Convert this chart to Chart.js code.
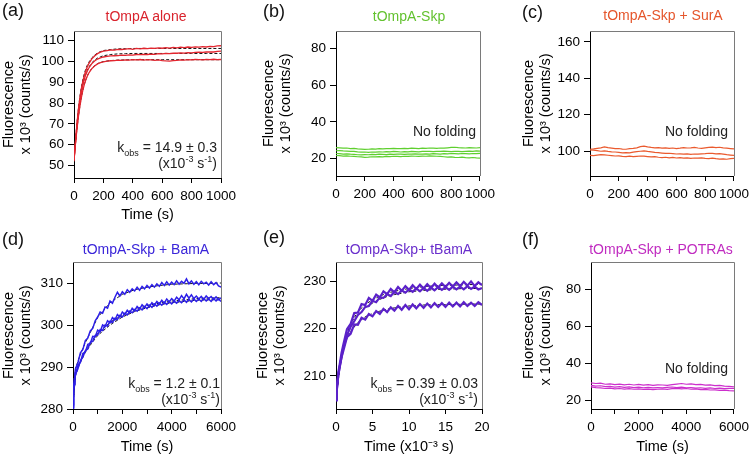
<!DOCTYPE html>
<html>
<head>
<meta charset="utf-8">
<script src="https://cdn.jsdelivr.net/npm/chart.js@4.4.0/dist/chart.umd.min.js"></script>
<style>
  body { margin: 0; background: #fff; font-family: "Liberation Sans", Arial, sans-serif; }
  #fig { position: relative; width: 754px; height: 456px; overflow: hidden; background: #fff; }
  canvas { position: absolute; }
  .txt { position: absolute; white-space: nowrap; font-size: 14px; line-height: 16px; color: #222; }
  .letter { font-size: 18px; line-height: 18px; color: #111; }
  .title { transform: translateX(-50%); }
  .note { text-align: right; }
  sub, sup { font-size: 9px; line-height: 0; }
</style>
</head>
<body>
<div id="fig">
  <canvas id="cA" width="250" height="225" style="left:0;top:0"></canvas>
  <canvas id="cB" width="250" height="225" style="left:250px;top:0"></canvas>
  <canvas id="cC" width="254" height="225" style="left:500px;top:0"></canvas>
  <canvas id="cD" width="250" height="231" style="left:0;top:225px"></canvas>
  <canvas id="cE" width="250" height="231" style="left:250px;top:225px"></canvas>
  <canvas id="cF" width="254" height="231" style="left:500px;top:225px"></canvas>

  <div class="txt letter" style="left:2px;top:1px">(a)</div>
  <div class="txt letter" style="left:263px;top:2px">(b)</div>
  <div class="txt letter" style="left:522px;top:3px">(c)</div>
  <div class="txt letter" style="left:2px;top:230px">(d)</div>
  <div class="txt letter" style="left:263px;top:228px">(e)</div>
  <div class="txt letter" style="left:522px;top:230px">(f)</div>

  <div class="txt title" style="left:146px;top:8px;color:#d9232d">tOmpA alone</div>
  <div class="txt title" style="left:409px;top:8px;color:#63c22f">tOmpA-Skp</div>
  <div class="txt title" style="left:663px;top:7px;color:#e5552b">tOmpA-Skp + SurA</div>
  <div class="txt title" style="left:146px;top:241px;color:#3a25d9">tOmpA-Skp + BamA</div>
  <div class="txt title" style="left:409px;top:241px;color:#6a2fcc">tOmpA-Skp+ tBamA</div>
  <div class="txt title" style="left:661px;top:241px;color:#c02cc0">tOmpA-Skp + POTRAs</div>

  <div class="txt note" style="right:537px;top:139px">k<sub>obs</sub> = 14.9 ± 0.3<br>(x10<sup>-3</sup> s<sup>-1</sup>)</div>
  <div class="txt note" style="right:534px;top:375px">k<sub>obs</sub> = 1.2 ± 0.1<br>(x10<sup>-3</sup> s<sup>-1</sup>)</div>
  <div class="txt note" style="right:276px;top:375px">k<sub>obs</sub> = 0.39 ± 0.03<br>(x10<sup>-3</sup> s<sup>-1</sup>)</div>
  <div class="txt note" style="right:278px;top:123px">No folding</div>
  <div class="txt note" style="right:26px;top:123px">No folding</div>
  <div class="txt note" style="right:26px;top:360px">No folding</div>
</div>

<script>
// ---- data ----

// (a) tOmpA alone: three traces + dashed fits
const tA = [0,10,20,30,40,50,60,70,80,90,100,120,140,160,180,200,
  225,250,275,300,325,350,375,400,425,450,475,500,525,550,575,600,
  625,650,675,700,725,750,775,800,825,850,875,900,925,950,975,1000];
const a1 = [52.0,61.5,70.0,77.0,82.5,87.0,90.5,93.3,95.6,97.4,98.9,
  101.2,102.7,103.8,104.5,105.0,
  105.3,105.6,105.5,105.9,105.8,106.0,106.2,105.9,106.3,106.1,
  106.4,106.2,106.5,106.3,106.6,106.4,106.7,106.5,106.8,106.6,
  106.9,106.7,107.0,106.8,107.1,106.9,107.2,107.0,107.3,107.2,
  107.5,107.6];
const a2 = [52.5,61.0,69.0,75.5,81.0,85.3,88.8,91.5,93.7,95.4,96.8,
  98.9,100.3,101.2,101.8,102.2,
  102.5,102.7,102.8,102.9,103.1,103.0,103.2,103.1,103.4,103.3,
  103.5,103.4,103.6,103.5,103.8,103.7,103.9,103.8,104.0,104.0,
  104.2,104.1,104.3,104.2,104.4,104.5,104.4,104.6,104.7,104.6,
  104.9,105.0];
const a3 = [53.0,60.5,67.5,73.5,78.5,82.7,86.1,88.9,91.1,92.9,94.4,
  96.5,97.9,98.9,99.5,99.9,
  100.2,100.4,100.5,100.7,100.6,100.8,100.7,100.9,100.8,101.0,
  100.7,100.9,100.8,100.6,100.8,100.5,100.3,100.2,100.5,100.6,
  100.8,100.7,100.9,100.8,101.0,100.9,100.8,101.0,100.9,101.1,
  100.9,101.0];
const tAfit = [0,10,20,30,40,50,60,70,80,90,100,120,140,160,180,200,
  250,300,350,400,500,600,700,800,900,1000];
const a1fit = [52.0,61.8,70.3,77.3,83.0,87.6,91.2,94.1,96.4,98.2,99.6,
  101.7,103.1,104.1,104.8,105.3,
  105.8,106.1,106.2,106.3,106.3,106.3,106.3,106.3,106.3,106.3];
const a2fit = [52.5,61.2,69.1,75.7,81.1,85.5,89.0,91.8,94.0,95.8,97.2,
  99.3,100.7,101.7,102.3,102.8,
  103.4,103.7,103.8,103.9,103.9,103.9,103.9,103.9,103.9,103.9];
const a3fit = [53.0,60.6,67.6,73.6,78.6,82.8,86.2,89.0,91.2,93.0,94.5,
  96.6,98.0,99.0,99.6,100.0,
  100.5,100.7,100.8,100.9,100.9,100.9,100.9,100.9,100.9,100.9];
const xTicksA = [0,200,400,600,800,1000];
const yTicksA = [50,60,70,80,90,100,110];

// (b) tOmpA-Skp
const tB = [0,25,50,75,100,125,150,175,200,225,250,275,300,325,350,375,
  400,425,450,475,500,525,550,575,600,625,650,675,700,725,750,775,
  800,825,850,875,900,925,950,975,1000];
const b1 = [26.0,25.9,25.7,25.8,25.5,25.6,25.3,25.2,25.0,25.1,
  25.3,25.2,25.4,25.3,25.5,25.4,25.6,25.5,25.4,25.6,
  25.5,25.7,25.6,25.5,25.7,25.6,25.8,25.7,25.6,25.8,
  25.7,25.9,26.1,26.2,26.0,25.9,25.8,26.0,25.9,25.8,26.0];
const b2 = [24.3,24.4,24.2,24.1,23.9,24.0,23.7,23.5,23.6,23.4,
  23.6,23.5,23.7,23.6,23.8,23.7,23.9,23.8,23.6,23.8,
  23.7,23.9,23.8,23.7,23.9,24.0,23.9,23.8,24.0,23.9,
  24.1,24.0,23.8,24.0,23.9,23.8,24.0,24.1,23.9,24.2,24.1];
const b3 = [22.8,22.7,22.5,22.6,22.4,22.3,22.1,22.0,22.2,22.1,
  22.3,22.2,22.4,22.3,22.2,22.4,22.3,22.5,22.4,22.3,
  22.5,22.4,22.6,22.5,22.4,22.6,22.5,22.7,22.6,22.5,
  22.7,22.6,22.8,22.7,22.6,22.8,22.7,22.6,22.8,22.7,22.9];
const b4 = [21.7,21.6,21.4,21.5,21.3,21.2,21.0,20.9,20.7,20.8,
  21.0,20.9,21.1,21.0,21.2,21.1,21.3,21.2,21.1,21.3,
  21.2,21.4,21.3,21.2,21.4,21.3,21.5,21.4,21.3,21.2,
  21.0,20.8,20.9,20.7,20.6,20.8,20.5,20.4,20.6,20.4,20.3];
const yTicksB = [20,40,60,80];

// (c) tOmpA-Skp + SurA
const tC = tB;
const c1 = [101.0,101.2,101.5,101.8,102.3,101.9,101.6,101.3,101.4,101.1,
  101.0,101.3,101.5,101.8,102.4,102.7,102.3,102.0,101.8,101.9,
  101.6,101.8,101.5,101.7,101.4,101.6,101.9,101.7,101.8,102.0,
  101.7,101.5,101.8,102.0,102.2,101.9,102.1,101.8,101.6,101.4,101.2];
const c2 = [100.6,100.5,100.2,99.9,100.1,99.8,99.6,99.5,99.3,99.0,
  99.2,99.0,99.4,99.7,99.9,100.1,99.8,99.6,99.3,99.1,
  98.9,98.7,98.8,98.6,98.4,98.5,98.3,98.5,98.2,98.4,
  98.3,98.5,98.6,98.8,98.7,98.5,98.6,98.3,98.0,97.8,97.6];
const c3 = [97.6,97.5,97.8,98.0,97.9,97.7,97.5,97.3,97.4,97.1,
  97.0,97.2,96.9,97.1,97.3,97.2,97.0,96.8,96.9,96.6,
  96.4,96.6,96.3,96.5,96.2,96.4,96.1,96.3,96.0,96.2,
  96.1,96.3,96.0,95.9,96.1,95.8,95.6,95.7,95.5,95.8,96.0];
const yTicksC = [100,120,140,160];

// (d) tOmpA-Skp + BamA
const tD = [0,25,50,75,
  100,200,300,400,500,600,700,800,900,1000,
  1100,1200,1300,1400,1500,1600,1700,1800,1900,2000,
  2100,2200,2300,2400,2500,2600,2700,2800,2900,3000,
  3100,3200,3300,3400,3500,3600,3700,3800,3900,4000,
  4100,4200,4300,4400,4500,4600,4700,4800,4900,5000,
  5100,5200,5300,5400,5500,5600,5700,5800,5900,6000];
const d1 = [281.0,285.5,287.2,288.4,
  289.6,291.0,293.4,294.2,296.3,296.9,298.6,299.2,301.0,301.9,
  303.1,302.8,304.3,304.0,305.7,305.2,306.6,307.8,306.9,307.9,
  307.3,308.4,307.8,308.6,308.1,309.0,308.3,309.2,308.6,309.4,
  308.8,309.6,309.0,309.8,309.2,310.1,309.4,310.3,309.5,310.2,
  309.6,310.5,309.7,310.4,309.9,311.0,309.8,310.5,309.7,310.3,
  309.6,310.4,309.8,310.2,309.5,310.3,309.6,310.1,309.3,309.0];
const d2 = [280.5,284.8,286.0,287.9,
  288.0,290.4,291.1,293.2,293.6,295.4,295.6,297.3,297.2,298.8,
  298.4,300.0,299.6,301.0,300.5,301.8,301.2,302.5,301.9,303.1,
  302.5,303.5,302.9,304.0,303.4,304.4,303.8,304.8,304.2,305.0,
  304.4,305.3,304.7,305.6,305.0,305.9,305.2,306.2,305.5,306.3,
  305.7,306.6,306.0,307.0,306.2,307.3,306.4,307.2,306.3,306.9,
  306.2,306.8,306.1,306.9,306.3,306.8,306.1,306.7,306.0,306.5];
const d3 = [280.0,284.0,285.8,287.0,
  288.2,289.6,291.4,292.4,293.9,294.3,295.9,296.1,297.5,297.6,
  298.9,298.7,300.0,299.7,300.9,300.6,301.6,301.3,302.3,301.9,
  302.8,302.4,303.3,302.9,303.7,303.3,304.1,303.6,304.4,303.9,
  304.7,304.2,305.0,304.5,305.2,304.7,305.4,304.9,305.6,305.0,
  305.7,305.2,305.8,305.3,306.0,305.4,306.1,305.5,306.2,305.6,
  306.2,305.6,306.3,305.7,306.2,305.6,306.3,305.7,306.2,305.6];
const tDfit = [0,100,250,500,750,1000,1500,2000,2500,3000,3500,4000,4500,5000,5500,6000];
const d1fit = [281.0,289.5,292.3,295.8,298.8,301.8,305.3,307.3,308.4,309.0,309.4,309.7,309.8,309.9,309.9,310.0];
const d2fit = [281.0,288.3,290.8,293.8,296.1,298.0,300.6,302.5,303.7,304.6,305.2,305.7,306.0,306.3,306.4,306.5];
const d3fit = [280.5,288.0,290.5,293.5,295.6,297.5,300.0,301.9,303.2,304.1,304.8,305.3,305.6,305.9,306.0,306.1];
const xTicksD = [0,1000,2000,3000,4000,5000,6000];
const xLabelsD = ['0','','2000','','4000','','6000'];
const yTicksD = [280,290,300,310];

// (e) tOmpA-Skp + tBamA, time in 10^3 s
const tE = [0,0.1,0.2,0.3,0.5,0.75,1,1.5,2,2.5,3,3.5,4,4.5,5,5.5,6,6.5,7,7.5,
  8,8.5,9,9.5,10,10.5,11,11.5,12,12.5,13,13.5,14,14.5,15,15.5,16,16.5,
  17,17.5,18,18.5,19,19.5,20];
const e1 = [205.0,207.3,208.9,210.6,212.4,214.8,216.6,219.9,221.0,223.3,
  223.4,225.2,225.0,226.5,225.9,227.2,226.6,227.9,227.3,228.4,
  227.7,228.8,228.0,229.0,228.2,229.2,228.4,229.3,228.5,229.4,
  228.6,229.5,228.7,229.6,228.8,229.7,228.9,229.8,229.0,229.9,
  229.1,230.0,229.0,229.8,229.2];
const e2 = [204.8,206.8,208.3,209.9,211.9,213.9,216.0,218.6,220.4,221.6,
  222.9,223.5,224.6,224.8,225.9,225.6,226.6,226.5,227.3,226.9,
  227.8,227.3,228.1,227.6,228.3,227.8,228.5,227.9,228.6,228.0,
  228.7,228.1,228.8,228.2,228.8,228.2,228.9,228.3,228.9,228.3,
  229.0,228.4,228.9,228.3,228.6];
const e3 = [205.2,207.0,208.6,210.0,211.8,213.9,215.3,218.2,218.9,220.9,
  220.8,222.3,221.9,223.1,222.6,223.7,223.1,224.2,223.5,224.5,
  223.8,224.8,224.0,225.0,224.1,225.1,224.3,225.2,224.4,225.3,
  224.5,225.4,224.6,225.4,224.6,225.5,224.7,225.5,224.7,225.6,
  224.8,225.5,224.8,225.6,225.0];
const tEfit = [0,0.5,1,1.5,2,3,4,5,6,7,8,10,12,14,16,18,20];
const e1fit = [205.0,212.0,216.2,219.0,221.0,223.6,225.1,226.1,226.9,227.5,227.9,228.5,228.9,229.1,229.2,229.3,229.4];
const e2fit = [205.0,211.7,215.8,218.4,220.3,222.8,224.4,225.4,226.2,226.8,227.2,227.8,228.1,228.3,228.4,228.5,228.5];
const e3fit = [205.0,211.6,215.6,217.9,219.4,221.3,222.5,223.2,223.7,224.1,224.4,224.8,225.0,225.1,225.1,225.2,225.2];
const xTicksE = [0,5,10,15,20];
const yTicksE = [210,220,230];

// (f) tOmpA-Skp + POTRAs
const tF = [0,200,400,600,800,1000,1200,1400,1600,1800,2000,2200,2400,2600,2800,
  3000,3200,3400,3600,3800,4000,4200,4400,4600,4800,5000,5200,5400,5600,5800,6000];
const f1 = [29.6,29.2,29.4,28.8,29.0,28.6,28.9,28.5,28.8,28.4,
  28.7,28.3,28.6,28.2,28.5,28.4,28.2,28.6,28.9,29.2,
  28.8,29.0,28.6,28.7,28.3,28.5,28.1,28.2,27.8,27.6,27.4];
const f2 = [28.2,27.8,28.0,27.5,27.7,27.3,27.5,27.1,27.4,27.0,
  27.2,26.9,27.1,26.8,27.0,26.9,27.1,27.3,27.0,27.2,
  26.9,27.0,26.7,26.9,26.6,26.8,26.5,26.7,26.4,26.6,26.5];
const f3 = [27.4,27.0,26.8,26.5,26.7,26.3,26.5,26.2,26.4,26.1,
  26.3,26.0,26.2,25.9,26.1,26.3,26.0,26.4,26.6,26.3,
  26.5,26.1,26.3,25.9,26.0,25.7,25.8,25.5,25.6,25.3,25.2];
const yTicksF = [20,40,60,80];

// ---- drawing ----
const FONT = '"Liberation Sans", Arial, sans-serif';
const Y_TITLE = ['Fluorescence', 'x 10\u00b3 (counts/s)'];
const TITLE_LH = 17.4;

// gray frame on the top and right of every plot box
const framePlugin = {
  id: 'frame',
  afterDraw(chart) {
    const { ctx, chartArea: a } = chart;
    ctx.save();
    ctx.strokeStyle = '#7a7a7a';
    ctx.lineWidth = 1;
    ctx.beginPath();
    ctx.moveTo(Math.round(a.left), Math.round(a.top) + 0.5);
    ctx.lineTo(Math.round(a.right) + 0.5, Math.round(a.top) + 0.5);
    ctx.lineTo(Math.round(a.right) + 0.5, Math.round(a.bottom));
    ctx.stroke();
    ctx.restore();
  }
};

function trace(t, v, color, width, dash) {
  return {
    data: t.map((x, i) => ({ x: x, y: v[i] })),
    borderColor: color,
    borderWidth: width,
    borderDash: dash || [],
    pointRadius: 0,
    fill: false,
    tension: 0
  };
}

function makePanel(id, p) {
  const tickFont = { family: FONT, size: 13.5 };
  const titleFont = { family: FONT, size: 14.5, lineHeight: 1.2 };
  new Chart(document.getElementById(id), {
    type: 'line',
    data: { datasets: p.datasets },
    options: {
      responsive: false,
      animation: false,
      devicePixelRatio: 1,
      events: [],
      layout: { padding: { left: 0, top: p.top, right: p.right, bottom: 0 } },
      plugins: { legend: { display: false }, tooltip: { enabled: false } },
      scales: {
        x: {
          type: 'linear',
          min: p.xMin,
          max: p.xMax,
          afterBuildTicks: s => { s.ticks = p.xTicks.map(v => ({ value: v })); },
          afterFit: s => { s.height = p.xHeight; },
          ticks: {
            font: tickFont, color: '#000', padding: 5, maxRotation: 0, autoSkip: false,
            callback: (v, i) => (p.xLabels ? p.xLabels[i] : String(v))
          },
          grid: { drawOnChartArea: false, tickLength: 5, color: '#000' },
          border: { color: '#000', width: 1 },
          title: {
            display: !!p.xTitle, text: p.xTitle || '', font: titleFont, color: '#000',
            padding: { top: 0, bottom: p.xTitlePad || 0 }
          }
        },
        y: {
          type: 'linear',
          min: p.yMin,
          max: p.yMax,
          afterBuildTicks: s => { s.ticks = p.yTicks.map(v => ({ value: v })); },
          afterFit: s => { s.width = p.left; },
          ticks: { font: tickFont, color: '#000', padding: 4, callback: v => String(v) },
          grid: { drawOnChartArea: false, tickLength: 6, color: '#000' },
          border: { color: '#000', width: 1 },
          title: {
            display: true, text: Y_TITLE, font: titleFont, color: '#000',
            padding: { top: p.yTitleX - TITLE_LH / 2, bottom: 0 }
          }
        }
      }
    },
    plugins: [framePlugin]
  });
}

const RED = '#e3262f', GREEN = '#5fcf2f', ORANGE = '#ea5a2e';
const BLUE = '#2d1fe8', PURPLE = '#5b21c9', MAGENTA = '#cc2fcc';
const DASH = [3, 2];

makePanel('cA', {
  left: 74, right: 29, top: 31, xHeight: 47, xTitle: 'Time (s)', xTitlePad: 1,
  xMin: 0, xMax: 1000, xTicks: xTicksA, yMin: 44, yMax: 114.7, yTicks: yTicksA, yTitleX: 9,
  datasets: [
    trace(tA, a1, RED, 1.3), trace(tA, a2, RED, 1.3), trace(tA, a3, RED, 1.3),
    trace(tAfit, a1fit, '#111', 1, DASH), trace(tAfit, a2fit, '#111', 1, DASH), trace(tAfit, a3fit, '#111', 1, DASH)
  ]
});

makePanel('cB', {
  left: 86, right: 18, top: 31, xHeight: 49,
  xMin: 0, xMax: 1000, xTicks: xTicksA, yMin: 10.5, yMax: 89.7, yTicks: yTicksB, yTitleX: 19,
  datasets: [
    trace(tB, b1, GREEN, 1.2), trace(tB, b2, GREEN, 1.2), trace(tB, b3, GREEN, 1.2), trace(tB, b4, GREEN, 1.2)
  ]
});

makePanel('cC', {
  left: 90, right: 17, top: 31, xHeight: 49,
  xMin: 0, xMax: 1000, xTicks: xTicksA, yMin: 86.3, yMax: 166, yTicks: yTicksC, yTitleX: 29,
  datasets: [
    trace(tC, c1, ORANGE, 1.2), trace(tC, c2, ORANGE, 1.2), trace(tC, c3, ORANGE, 1.2)
  ]
});

makePanel('cD', {
  left: 73, right: 29, top: 37, xHeight: 47, xTitle: 'Time (s)', xTitlePad: 0,
  xMin: 0, xMax: 6000, xTicks: xTicksD, xLabels: xLabelsD, yMin: 280, yMax: 315, yTicks: yTicksD, yTitleX: 9,
  datasets: [
    trace(tD, d1, BLUE, 1.5), trace(tD, d2, BLUE, 1.5), trace(tD, d3, BLUE, 1.5),
    trace(tDfit, d1fit, '#111', 1, DASH), trace(tDfit, d2fit, '#111', 1, DASH), trace(tDfit, d3fit, '#111', 1, DASH)
  ]
});

makePanel('cE', {
  left: 86, right: 18, top: 37, xHeight: 47, xTitle: 'Time (x10\u207b\u00b3 s)', xTitlePad: 0,
  xMin: 0, xMax: 20, xTicks: xTicksE, yMin: 203, yMax: 234.1, yTicks: yTicksE, yTitleX: 13,
  datasets: [
    trace(tE, e1, PURPLE, 2.2), trace(tE, e2, PURPLE, 2.2), trace(tE, e3, PURPLE, 2.2),
    trace(tEfit, e1fit, '#111', 1, DASH), trace(tEfit, e2fit, '#111', 1, DASH), trace(tEfit, e3fit, '#111', 1, DASH)
  ]
});

makePanel('cF', {
  left: 91, right: 17, top: 37, xHeight: 47, xTitle: 'Time (s)', xTitlePad: 0,
  xMin: 0, xMax: 6000, xTicks: xTicksD, xLabels: xLabelsD, yMin: 15.4, yMax: 95, yTicks: yTicksF, yTitleX: 29,
  datasets: [
    trace(tF, f1, MAGENTA, 1.2), trace(tF, f2, MAGENTA, 1.2), trace(tF, f3, MAGENTA, 1.2)
  ]
});
</script>
</body>
</html>
